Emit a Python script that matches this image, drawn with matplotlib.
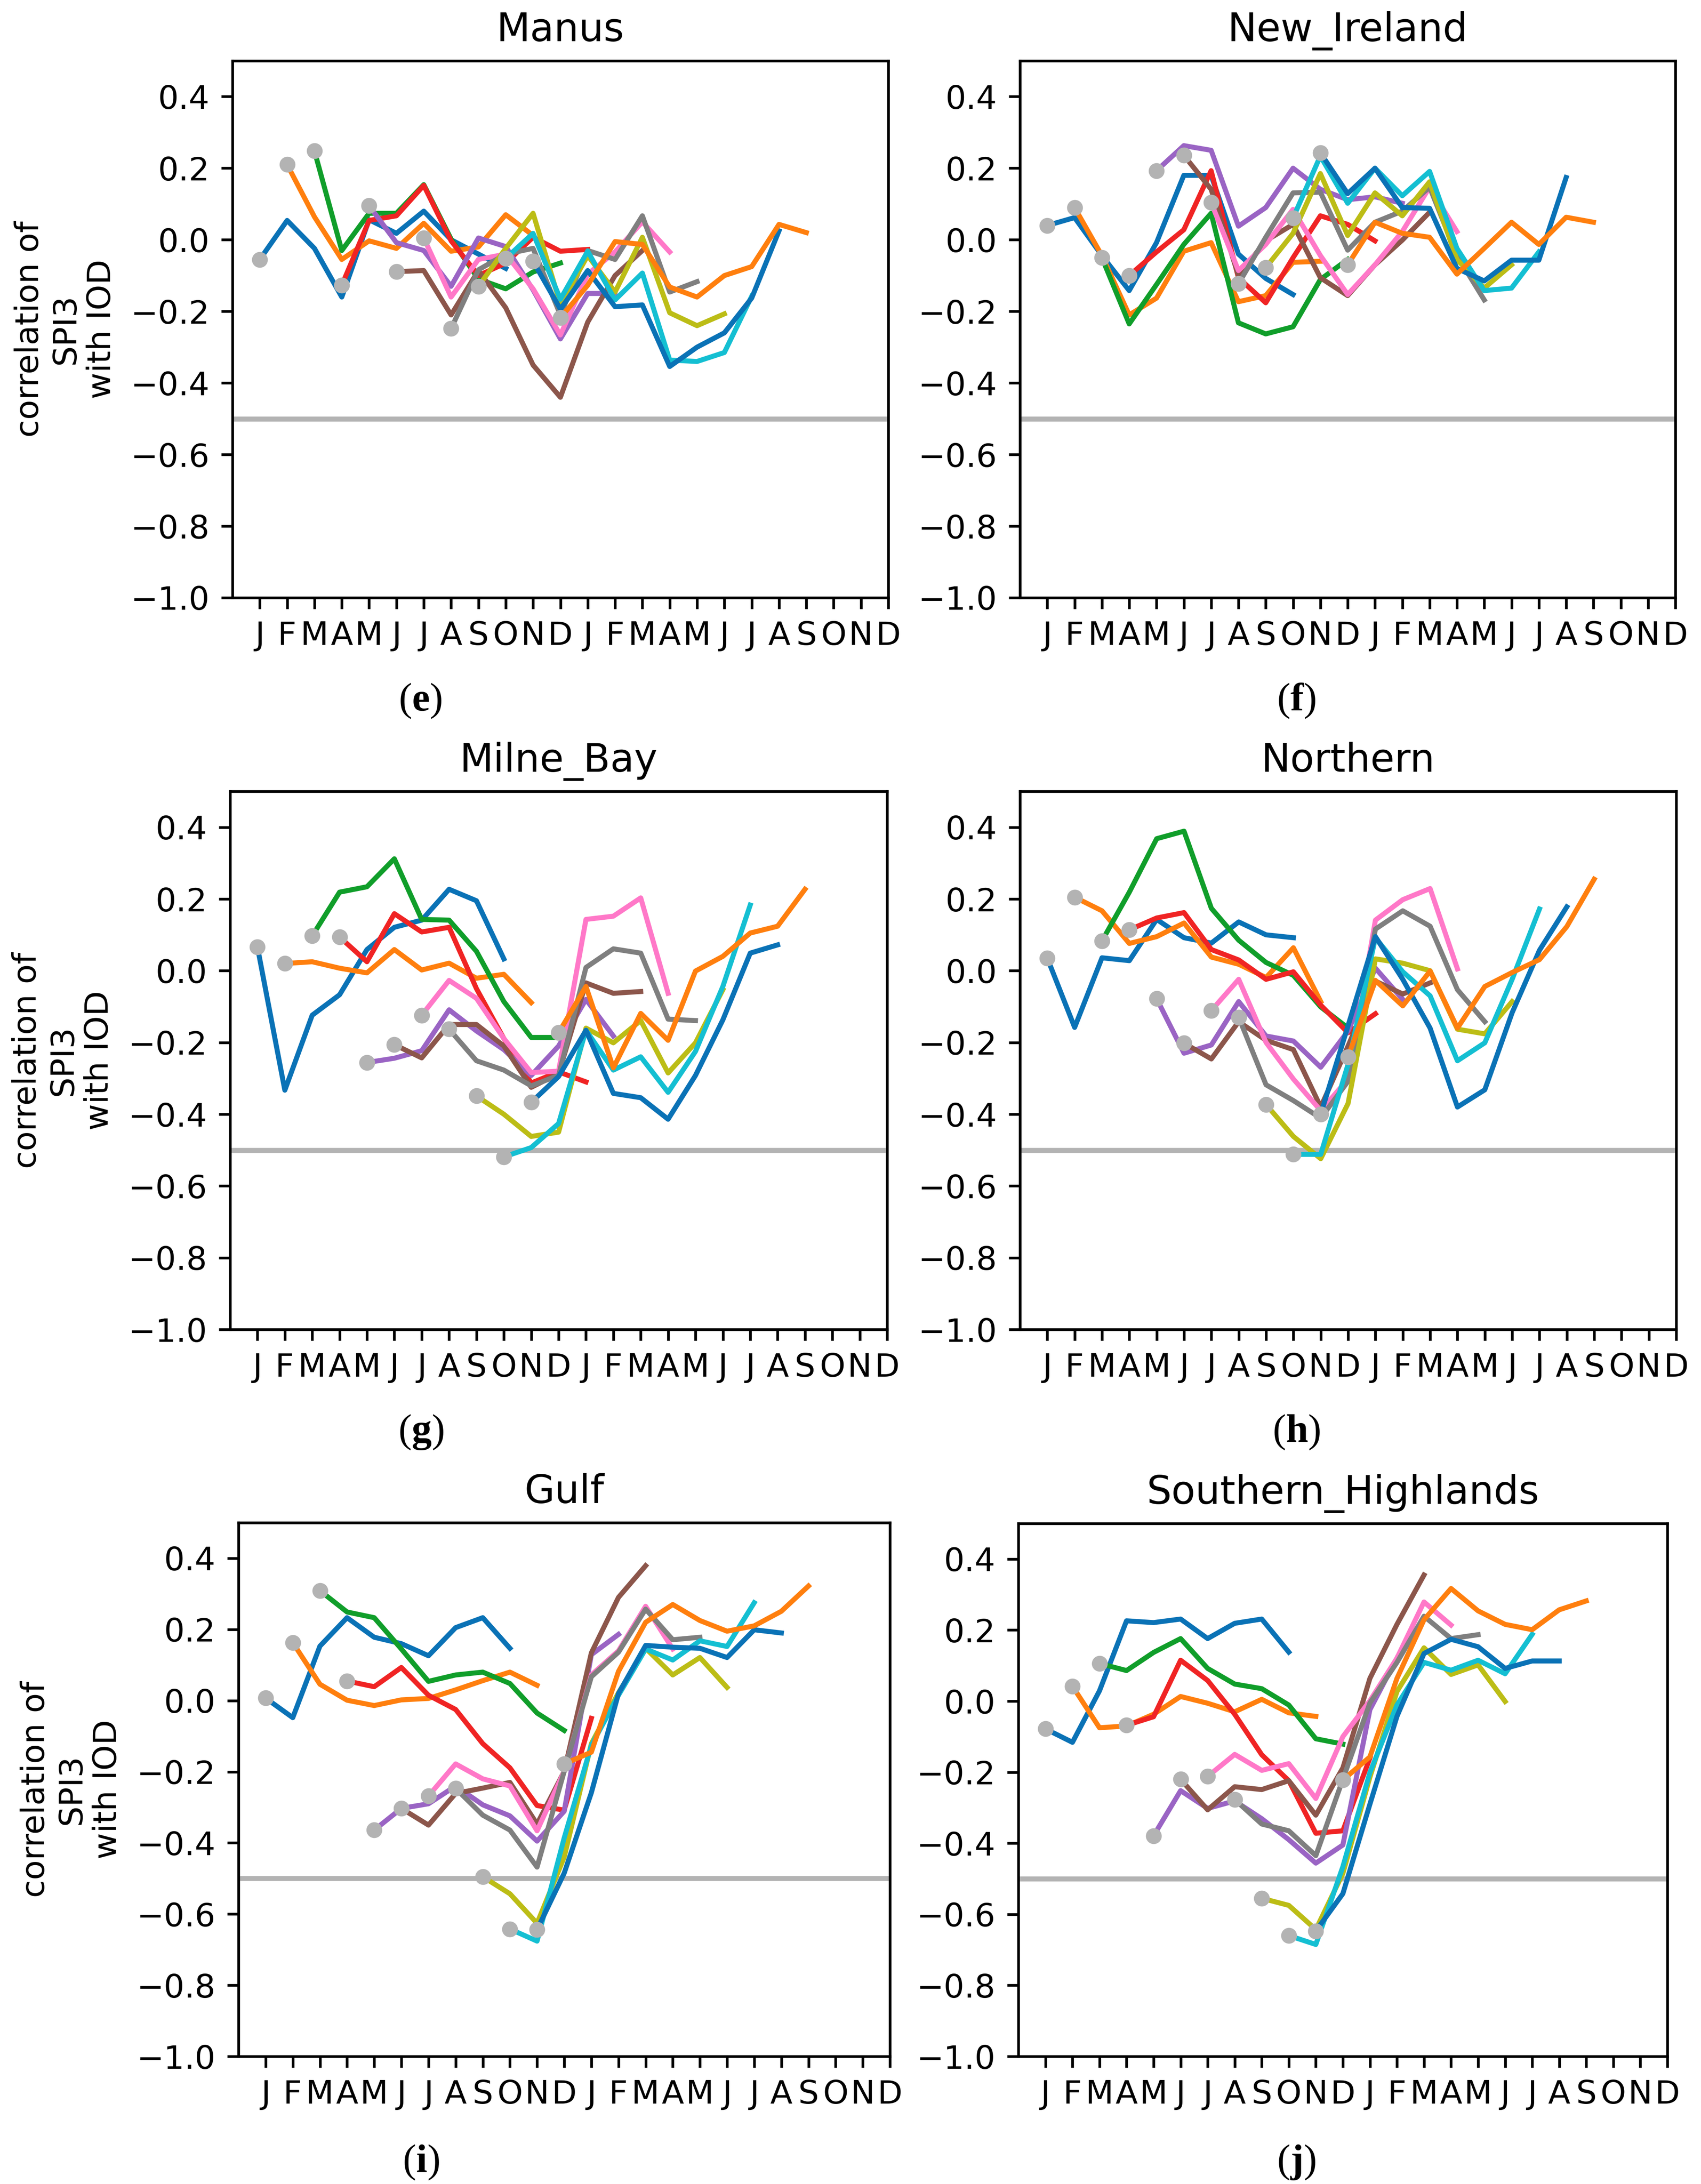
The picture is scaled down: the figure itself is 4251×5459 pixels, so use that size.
"""Lagged correlation of SPI3 with IOD for six PNG provinces, panels (e)-(j)."""

import matplotlib
matplotlib.use('Agg')
import matplotlib.pyplot as plt

W, H = 4251, 5459
DPI = 300

MONTHS = list('JFMAMJJASOND') * 2
REGIONS = ['Manus', 'New_Ireland', 'Milne_Bay', 'Northern', 'Gulf', 'Southern_Highlands']
CAPTIONS = ['e', 'f', 'g', 'h', 'i', 'j']
YTICKS = [-1.0, -0.8, -0.6, -0.4, -0.2, 0.0, 0.2, 0.4]
THRESHOLD = -0.5

# series k starts in month k (gray dot) and runs for 10 months
manus = [
	[-0.055, 0.054, -0.024, -0.16, 0.056, 0.018, 0.08, 0.0, -0.04, -0.08],
	[0.21, 0.064, -0.055, -0.003, -0.024, 0.046, -0.032, -0.02, 0.07, 0.012],
	[0.248, -0.03, 0.074, 0.074, 0.154, 0.002, -0.11, -0.137, -0.09, -0.065],
	[-0.127, 0.054, 0.067, 0.152, -0.003, -0.10, -0.065, 0.007, -0.032, -0.027],
	[0.095, -0.008, -0.03, -0.13, 0.005, -0.019, -0.14, -0.277, -0.15, -0.15],
	[-0.089, -0.086, -0.21, -0.086, -0.19, -0.35, -0.44, -0.23, -0.10, -0.03],
	[0.005, -0.16, -0.055, -0.04, -0.137, -0.266, -0.096, -0.034, 0.05, -0.034],
	[-0.248, -0.084, -0.04, -0.024, -0.21, -0.03, -0.055, 0.067, -0.146, -0.117],
	[-0.13, -0.024, 0.074, -0.18, -0.044, -0.146, 0.007, -0.204, -0.24, -0.207],
	[-0.052, 0.018, -0.166, -0.032, -0.168, -0.093, -0.336, -0.34, -0.315, -0.158],
	[-0.06, -0.194, -0.086, -0.187, -0.182, -0.354, -0.30, -0.26, -0.163, 0.025],
	[-0.218, -0.127, -0.005, -0.013, -0.132, -0.16, -0.10, -0.075, 0.043, 0.02],
]

new_ireland = [
	[0.04, 0.062, -0.044, -0.142, -0.008, 0.18, 0.18, -0.04, -0.108, -0.153],
	[0.09, -0.044, -0.21, -0.163, -0.032, -0.008, -0.173, -0.156, -0.063, -0.06],
	[-0.05, -0.235, -0.125, -0.013, 0.074, -0.232, -0.263, -0.243, -0.111, -0.055],
	[-0.10, -0.034, 0.028, 0.193, -0.106, -0.176, -0.05, 0.067, 0.043, -0.003],
	[0.193, 0.263, 0.25, 0.038, 0.09, 0.2, 0.141, 0.112, 0.12, 0.102],
	[0.236, 0.141, -0.10, -0.003, 0.043, -0.106, -0.156, -0.07, -0.001, 0.077],
	[0.104, -0.086, -0.013, 0.085, -0.044, -0.153, -0.07, 0.023, 0.147, 0.023],
	[-0.123, 0.007, 0.131, 0.133, -0.029, 0.049, 0.08, 0.147, -0.044, -0.168],
	[-0.078, 0.018, 0.185, 0.012, 0.131, 0.067, 0.162, -0.055, -0.135, -0.07],
	[0.061, 0.234, 0.102, 0.2, 0.123, 0.191, -0.024, -0.142, -0.135, -0.034],
	[0.243, 0.129, 0.2, 0.09, 0.088, -0.08, -0.115, -0.057, -0.057, 0.174],
	[-0.07, 0.049, 0.018, 0.007, -0.096, -0.024, 0.049, -0.013, 0.063, 0.049],
]

milne_bay = [
	[0.066, -0.333, -0.124, -0.067, 0.059, 0.121, 0.141, 0.227, 0.195, 0.033],
	[0.02, 0.025, 0.007, -0.006, 0.059, 0.002, 0.021, -0.021, -0.01, -0.089],
	[0.097, 0.219, 0.234, 0.312, 0.143, 0.141, 0.054, -0.086, -0.186, -0.186],
	[0.094, 0.025, 0.159, 0.108, 0.121, -0.05, -0.189, -0.313, -0.282, -0.31],
	[-0.256, -0.244, -0.223, -0.109, -0.168, -0.22, -0.292, -0.21, -0.08, -0.182],
	[-0.206, -0.243, -0.15, -0.15, -0.21, -0.325, -0.287, -0.034, -0.063, -0.058],
	[-0.124, -0.027, -0.077, -0.189, -0.284, -0.28, 0.143, 0.152, 0.203, -0.063],
	[-0.163, -0.251, -0.277, -0.321, -0.292, 0.009, 0.061, 0.049, -0.135, -0.139],
	[-0.349, -0.40, -0.462, -0.45, -0.16, -0.201, -0.139, -0.285, -0.201, -0.053],
	[-0.519, -0.493, -0.426, -0.166, -0.277, -0.24, -0.339, -0.225, -0.044, 0.183],
	[-0.367, -0.295, -0.166, -0.342, -0.354, -0.414, -0.292, -0.137, 0.049, 0.072],
	[-0.173, -0.044, -0.271, -0.119, -0.194, -0.001, 0.04, 0.105, 0.124, 0.227],
]

northern = [
	[0.035, -0.158, 0.036, 0.028, 0.143, 0.092, 0.077, 0.136, 0.1, 0.092],
	[0.205, 0.167, 0.076, 0.095, 0.133, 0.038, 0.018, -0.019, 0.064, -0.086],
	[0.083, 0.219, 0.368, 0.389, 0.174, 0.085, 0.023, -0.013, -0.101, -0.16],
	[0.114, 0.147, 0.162, 0.059, 0.03, -0.024, -0.003, -0.096, -0.173, -0.12],
	[-0.078, -0.23, -0.207, -0.086, -0.182, -0.196, -0.269, -0.168, 0.007, -0.08],
	[-0.202, -0.246, -0.142, -0.194, -0.22, -0.38, -0.21, -0.029, -0.065, -0.034],
	[-0.111, -0.024, -0.2, -0.302, -0.39, -0.302, 0.141, 0.198, 0.229, 0.005],
	[-0.13, -0.318, -0.362, -0.411, -0.308, 0.116, 0.167, 0.124, -0.053, -0.142],
	[-0.373, -0.462, -0.524, -0.37, 0.033, 0.021, 0.0, -0.163, -0.176, -0.086],
	[-0.512, -0.512, -0.261, 0.092, -0.003, -0.07, -0.251, -0.201, -0.024, 0.172],
	[-0.40, -0.153, 0.095, -0.024, -0.16, -0.38, -0.332, -0.117, 0.057, 0.178],
	[-0.24, -0.027, -0.098, -0.001, -0.16, -0.044, -0.005, 0.031, 0.123, 0.255],
]

gulf = [
	[0.007, -0.048, 0.153, 0.233, 0.178, 0.16, 0.126, 0.205, 0.233, 0.147],
	[0.163, 0.046, 0.001, -0.014, 0.002, 0.006, 0.03, 0.056, 0.08, 0.043],
	[0.309, 0.249, 0.233, 0.145, 0.054, 0.072, 0.08, 0.048, -0.035, -0.084],
	[0.055, 0.039, 0.093, 0.015, -0.025, -0.121, -0.189, -0.295, -0.308, -0.05],
	[-0.364, -0.303, -0.29, -0.24, -0.293, -0.324, -0.395, -0.311, 0.129, 0.186],
	[-0.303, -0.35, -0.261, -0.246, -0.23, -0.347, -0.199, 0.134, 0.29, 0.379],
	[-0.268, -0.178, -0.22, -0.24, -0.366, -0.199, 0.072, 0.14, 0.265, 0.145],
	[-0.247, -0.322, -0.364, -0.468, -0.199, 0.067, 0.136, 0.257, 0.171, 0.178],
	[-0.495, -0.543, -0.626, -0.44, -0.121, 0.022, 0.147, 0.072, 0.121, 0.037],
	[-0.642, -0.676, -0.386, -0.126, 0.015, 0.145, 0.114, 0.168, 0.152, 0.275],
	[-0.644, -0.485, -0.259, 0.02, 0.155, 0.15, 0.147, 0.121, 0.199, 0.19],
	[-0.178, -0.145, 0.082, 0.22, 0.27, 0.225, 0.195, 0.21, 0.251, 0.322],
]

southern_highlands = [
	[-0.078, -0.116, 0.029, 0.226, 0.221, 0.231, 0.176, 0.219, 0.231, 0.138],
	[0.042, -0.075, -0.07, -0.037, 0.013, -0.006, -0.03, 0.005, -0.033, -0.043],
	[0.106, 0.086, 0.137, 0.176, 0.092, 0.048, 0.035, -0.011, -0.106, -0.121],
	[-0.068, -0.044, 0.115, 0.058, -0.037, -0.151, -0.224, -0.372, -0.365, -0.16],
	[-0.379, -0.252, -0.302, -0.281, -0.331, -0.39, -0.456, -0.405, -0.024, 0.121],
	[-0.22, -0.306, -0.241, -0.249, -0.224, -0.321, -0.188, 0.064, 0.216, 0.355],
	[-0.212, -0.15, -0.195, -0.176, -0.274, -0.1, 0.001, 0.121, 0.279, 0.214],
	[-0.277, -0.346, -0.365, -0.435, -0.22, -0.005, 0.109, 0.239, 0.176, 0.187],
	[-0.555, -0.575, -0.643, -0.485, -0.214, 0.027, 0.15, 0.075, 0.102, -0.001],
	[-0.66, -0.685, -0.466, -0.201, -0.011, 0.109, 0.087, 0.115, 0.077, 0.188],
	[-0.647, -0.542, -0.29, -0.043, 0.134, 0.174, 0.153, 0.092, 0.113, 0.113],
	[-0.222, -0.157, 0.064, 0.229, 0.317, 0.254, 0.216, 0.201, 0.257, 0.282],
]

PANEL_DATA = [manus, new_ireland, milne_bay, northern, gulf, southern_highlands]

COLORS = ['#0a72b6', '#ff7f0e', '#109e2a', '#f02424', '#9a64c4',
          '#8c564b', '#ff78c8', '#7f7f7f', '#bcbd16', '#14bfd2']
DOT = '#b3b3b3'

# axes boxes in pixels: left, right, top, bottom (the panels are not perfectly aligned)
BOXES = [
	(581, 2220, 152, 1494), (2549, 4187, 152, 1494),
	(575, 2217, 1978, 3323), (2549, 4189, 1978, 3323),
	(596, 2224, 3806, 5140), (2545, 4167, 3808, 5140),
]
CAPTION_XY = [(1050, 1752), (3240, 1752), (1052, 3580), (3240, 3580), (1052, 5405), (3240, 5405)]

plt.rcParams['font.family'] = 'DejaVu Sans'
plt.rcParams['mathtext.fontset'] = 'custom'
plt.rcParams['mathtext.rm'] = 'Liberation Serif'
plt.rcParams['mathtext.bf'] = 'Liberation Serif:bold'

TICK_FS = 19.5
TITLE_FS = 23.5
LW = 3.0


def draw_panel(ax, name, series, left_col):
	ax.axhline(THRESHOLD, color=DOT, lw=LW, zorder=1)
	for k, vals in enumerate(series):
		xs = list(range(k, k + len(vals)))
		ax.plot(xs, vals, color=COLORS[k % len(COLORS)], lw=LW, zorder=2)
		ax.plot(xs[0], vals[0], 'o', color=DOT, ms=9.5, mec='none', zorder=2)

	ax.set_xlim(-1, 23)
	ax.set_ylim(-1.0, 0.5)
	ax.set_xticks(range(len(MONTHS)))
	ax.set_xticklabels(MONTHS)
	ax.set_yticks(YTICKS)
	ax.tick_params(labelsize=TICK_FS, length=6.8, width=1.6, pad=6.9)
	for sp in ax.spines.values():
		sp.set_linewidth(1.6)
	ax.set_title(name, fontsize=TITLE_FS, pad=11.8)
	if left_col:
		ax.set_ylabel('correlation of\nSPI3\nwith IOD', fontsize=TICK_FS,
		              multialignment='center', labelpad=8)


fig = plt.figure(figsize=(W / DPI, H / DPI), dpi=DPI)

for i, (name, series) in enumerate(zip(REGIONS, PANEL_DATA)):
	x0, x1, yt, yb = BOXES[i]
	ax = fig.add_axes([x0 / W, 1 - yb / H, (x1 - x0) / W, (yb - yt) / H])
	draw_panel(ax, name, series, i % 2 == 0)
	cx, cy = CAPTION_XY[i]
	fig.text(cx / W, 1 - cy / H, r'($\mathbf{%s}$)' % CAPTIONS[i], family='Liberation Serif',
	         fontsize=24, ha='center', va='center')

fig.savefig('out.png', dpi=DPI)
